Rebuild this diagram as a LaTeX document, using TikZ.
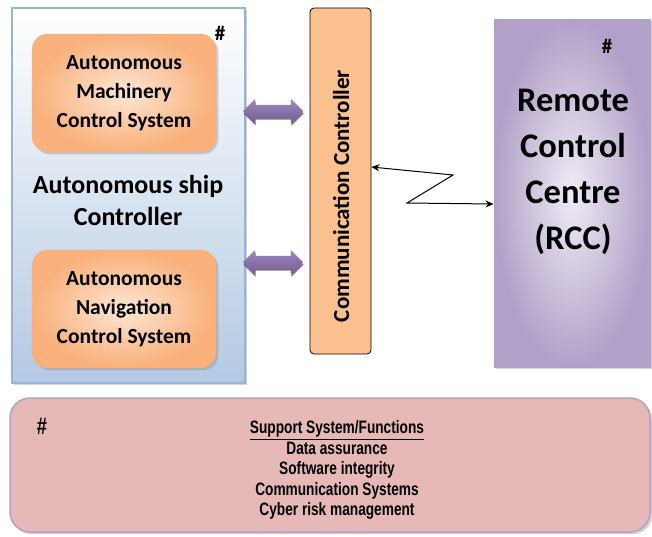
\documentclass[tikz,border=0pt]{standalone}
\usepackage{fontspec}
\setmainfont{Carlito}
\newfontfamily\arialfont[FakeStretch=0.76, BoldFont={Liberation Sans Bold}]{Liberation Sans}
\usetikzlibrary{shapes.arrows,shadows,arrows.meta}

\definecolor{shipblue}{HTML}{B4C9E3}
\definecolor{shipborder}{HTML}{95B3D7}
\definecolor{orangeout}{HTML}{F9B07A}
\definecolor{orangein}{HTML}{FDE6D4}
\definecolor{ccpeach}{HTML}{FAC090}
\definecolor{rccout}{HTML}{B1A0C8}
\definecolor{rccin}{HTML}{F0ECF5}
\definecolor{arrowlight}{HTML}{9E88C3}
\definecolor{arrowdark}{HTML}{5F497A}
\definecolor{supportpink}{HTML}{E6B8B7}

\tikzset{
  subsys/.style={rounded corners=16pt, inner color=orangein, outer color=orangeout,
    draw=orangeout, minimum width=184pt, minimum height=118pt, align=center,
    font=\bfseries\fontsize{21.5}{29}\selectfont, drop shadow={opacity=0.35}},
  link/.style={double arrow, double arrow head extend=6pt, minimum height=60pt,
    inner xsep=0pt, inner ysep=6pt, top color=arrowlight, bottom color=arrowdark!70!arrowlight,
    draw=none, drop shadow={fill=arrowdark, opacity=0.8, shadow xshift=0.5pt, shadow yshift=-2.5pt}},
  hash/.style={font=\bfseries\fontsize{21}{22}\selectfont, inner sep=1pt},
}

\begin{document}
\begin{tikzpicture}[x=1pt, y=-1pt, >={Stealth[length=8pt,width=7pt]}]
    \useasboundingbox (0,0) rectangle (652,536);

    % Autonomous ship controller (outer box)
    \node[minimum width=233pt, minimum height=375pt, top color=white, bottom color=shipblue,
          draw=shipborder, line width=1.5pt, drop shadow={opacity=0.35}] (ship) at (128.5,195.5) {};
    \node[hash] (hashship) at (220,33) {\#};

    % Subsystems
    \node[subsys] (machinery) at (124,93) {Autonomous\\Machinery\\Control System};
    \node[subsys] (navigation) at (124,309) {Autonomous\\Navigation\\Control System};
    \node[align=center, font=\bfseries\fontsize{26}{32}\selectfont] (shiptitle) at (128,200)
        {Autonomous ship\\Controller};

    % Communication controller
    \node[draw=black, thick, fill=ccpeach, rounded corners=4pt,
          minimum width=61pt, minimum height=346pt] (comm) at (340.5,181) {};
    \node[rotate=90, font=\bfseries\fontsize{23}{26}\selectfont] (commtext) at (341,196)
        {Communication Controller};

    % Purple double arrows between ship controller and comm controller
    \node[link] (linkmach) at (273,111) {};
    \node[link] (linknav) at (273,262) {};

    % Remote control centre
    \node[minimum width=156pt, minimum height=348pt, inner color=rccin, outer color=rccout,
          draw=rccout, line width=1pt, drop shadow={opacity=0.35}] (rcc) at (572,193) {};
    \node[hash] (hashrcc) at (607,46) {\#};
    \node[align=center, font=\bfseries\fontsize{34.5}{46}\selectfont] (rcctext) at (573,172)
        {Remote\\Control\\Centre\\(RCC)};

    % Radio link (zigzag)
    \coordinate (zigA) at (453,175);
    \coordinate (zigB) at (407,203);
    \draw[<->, line width=1pt] (comm.east |- 0,167) -- (zigA) -- (zigB) -- (rcc.west |- 0,204);

    % Support system / functions
    \node[minimum width=640pt, minimum height=134pt, rounded corners=20pt, fill=supportpink,
          draw=rccout, line width=1.5pt, drop shadow={opacity=0.35}] (support) at (330,465) {};
    \node[hash, font=\arialfont\bfseries\fontsize{24}{24}\selectfont] (hashsupport) at (42,426) {\#};
    \node[align=center, font=\arialfont\bfseries\fontsize{18}{20.5}\selectfont] (supporttext) at (337,470)
        {\underline{Support System/Functions}\\Data assurance\\Software integrity\\Communication Systems\\Cyber risk management};

\end{tikzpicture}
\end{document}
